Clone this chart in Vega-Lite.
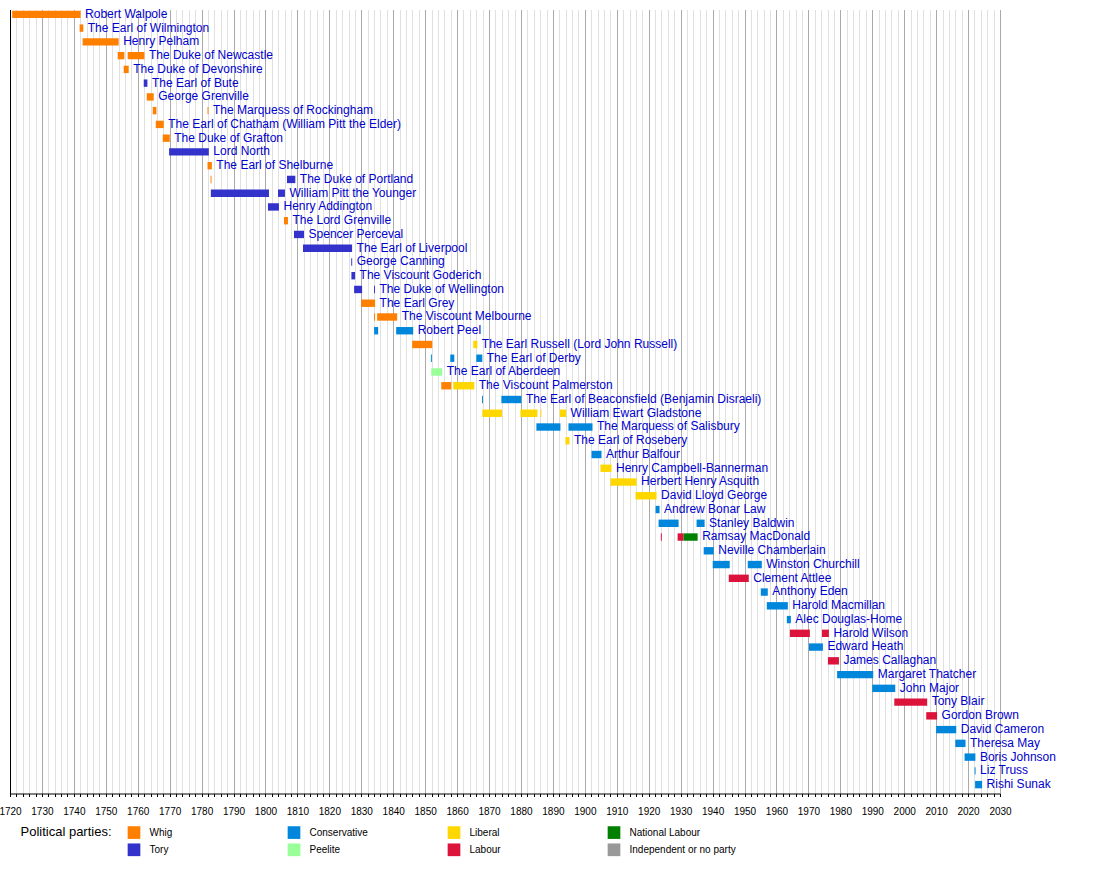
{
  "$schema": "https://vega.github.io/schema/vega-lite/v6.json",
  "width": 990,
  "height": 784,
  "autosize": {"type": "none"},
  "padding": {"left": 10, "top": 9.5, "right": 100, "bottom": 80.5},
  "background": "white",
  "config": {"view": {"stroke": null}, "font": "Liberation Sans"},
  "data": {"values": [
    {"pm": "Robert Walpole", "order": 1, "party": "Whig", "start": 1720.68, "end": 1742.11},
    {"pm": "The Earl of Wilmington", "order": 2, "party": "Whig", "start": 1741.8, "end": 1742.95},
    {"pm": "Henry Pelham", "order": 3, "party": "Whig", "start": 1742.74, "end": 1754.03},
    {"pm": "The Duke of Newcastle", "order": 4, "party": "Whig", "start": 1753.72, "end": 1755.81},
    {"pm": "The Duke of Newcastle", "order": 4, "party": "Whig", "start": 1756.86, "end": 1762.09},
    {"pm": "The Duke of Devonshire", "order": 5, "party": "Whig", "start": 1755.6, "end": 1757.17},
    {"pm": "The Earl of Bute", "order": 6, "party": "Tory", "start": 1761.88, "end": 1763.03},
    {"pm": "George Grenville", "order": 7, "party": "Whig", "start": 1762.82, "end": 1765.01},
    {"pm": "The Marquess of Rockingham", "order": 8, "party": "Whig", "start": 1764.7, "end": 1765.85},
    {"pm": "The Marquess of Rockingham", "order": 8, "party": "Whig", "start": 1781.85, "end": 1782.15},
    {"pm": "The Earl of Chatham (William Pitt the Elder)", "order": 9, "party": "Whig", "start": 1765.64, "end": 1768.15},
    {"pm": "The Duke of Grafton", "order": 10, "party": "Whig", "start": 1767.83, "end": 1770.03},
    {"pm": "Lord North", "order": 11, "party": "Tory", "start": 1769.82, "end": 1782.26},
    {"pm": "The Earl of Shelburne", "order": 12, "party": "Whig", "start": 1781.85, "end": 1783.21},
    {"pm": "The Duke of Portland", "order": 13, "party": "Whig", "start": 1782.8, "end": 1783.1},
    {"pm": "The Duke of Portland", "order": 13, "party": "Tory", "start": 1806.73, "end": 1809.34},
    {"pm": "William Pitt the Younger", "order": 14, "party": "Tory", "start": 1782.89, "end": 1801.09},
    {"pm": "William Pitt the Younger", "order": 14, "party": "Tory", "start": 1803.91, "end": 1806.1},
    {"pm": "Henry Addington", "order": 15, "party": "Tory", "start": 1800.77, "end": 1804.22},
    {"pm": "The Lord Grenville", "order": 16, "party": "Whig", "start": 1805.79, "end": 1807.04},
    {"pm": "Spencer Perceval", "order": 17, "party": "Tory", "start": 1808.93, "end": 1812.07},
    {"pm": "The Earl of Liverpool", "order": 18, "party": "Tory", "start": 1811.75, "end": 1827.12},
    {"pm": "George Canning", "order": 19, "party": "Tory", "start": 1826.85, "end": 1827.15},
    {"pm": "The Viscount Goderich", "order": 20, "party": "Tory", "start": 1826.9, "end": 1828.06},
    {"pm": "The Duke of Wellington", "order": 21, "party": "Tory", "start": 1827.75, "end": 1830.26},
    {"pm": "The Duke of Wellington", "order": 21, "party": "Tory", "start": 1834.0, "end": 1834.3},
    {"pm": "The Earl Grey", "order": 22, "party": "Whig", "start": 1829.94, "end": 1834.33},
    {"pm": "The Viscount Melbourne", "order": 23, "party": "Whig", "start": 1834.0, "end": 1834.3},
    {"pm": "The Viscount Melbourne", "order": 23, "party": "Whig", "start": 1834.97, "end": 1841.24},
    {"pm": "Robert Peel", "order": 24, "party": "Conservative", "start": 1834.02, "end": 1835.28},
    {"pm": "Robert Peel", "order": 24, "party": "Conservative", "start": 1840.92, "end": 1846.25},
    {"pm": "The Earl Russell (Lord John Russell)", "order": 25, "party": "Whig", "start": 1845.94, "end": 1852.22},
    {"pm": "The Earl Russell (Lord John Russell)", "order": 25, "party": "Liberal", "start": 1865.07, "end": 1866.33},
    {"pm": "The Earl of Derby", "order": 26, "party": "Conservative", "start": 1851.8, "end": 1852.1},
    {"pm": "The Earl of Derby", "order": 26, "party": "Conservative", "start": 1857.86, "end": 1859.12},
    {"pm": "The Earl of Derby", "order": 26, "party": "Conservative", "start": 1866.01, "end": 1867.89},
    {"pm": "The Earl of Aberdeen", "order": 27, "party": "Peelite", "start": 1851.9, "end": 1855.35},
    {"pm": "The Viscount Palmerston", "order": 28, "party": "Whig", "start": 1855.04, "end": 1858.17},
    {"pm": "The Viscount Palmerston", "order": 28, "party": "Liberal", "start": 1858.8, "end": 1865.38},
    {"pm": "The Earl of Beaconsfield (Benjamin Disraeli)", "order": 29, "party": "Conservative", "start": 1867.8, "end": 1868.1},
    {"pm": "The Earl of Beaconsfield (Benjamin Disraeli)", "order": 29, "party": "Conservative", "start": 1873.86, "end": 1880.13},
    {"pm": "William Ewart Gladstone", "order": 30, "party": "Liberal", "start": 1867.89, "end": 1874.07},
    {"pm": "William Ewart Gladstone", "order": 30, "party": "Liberal", "start": 1879.82, "end": 1885.15},
    {"pm": "William Ewart Gladstone", "order": 30, "party": "Liberal", "start": 1886.1, "end": 1886.4},
    {"pm": "William Ewart Gladstone", "order": 30, "party": "Liberal", "start": 1892.16, "end": 1894.14},
    {"pm": "The Marquess of Salisbury", "order": 31, "party": "Conservative", "start": 1884.83, "end": 1892.36},
    {"pm": "The Marquess of Salisbury", "order": 31, "party": "Conservative", "start": 1894.87, "end": 1902.4},
    {"pm": "The Earl of Rosebery", "order": 32, "party": "Liberal", "start": 1893.93, "end": 1895.18},
    {"pm": "Arthur Balfour", "order": 33, "party": "Conservative", "start": 1902.09, "end": 1905.22},
    {"pm": "Henry Campbell-Bannerman", "order": 34, "party": "Liberal", "start": 1904.9, "end": 1908.35},
    {"pm": "Herbert Henry Asquith", "order": 35, "party": "Liberal", "start": 1908.03, "end": 1916.19},
    {"pm": "David Lloyd George", "order": 36, "party": "Liberal", "start": 1915.87, "end": 1922.46},
    {"pm": "Andrew Bonar Law", "order": 37, "party": "Conservative", "start": 1922.15, "end": 1923.4},
    {"pm": "Stanley Baldwin", "order": 38, "party": "Conservative", "start": 1923.09, "end": 1929.36},
    {"pm": "Stanley Baldwin", "order": 38, "party": "Conservative", "start": 1934.99, "end": 1937.5},
    {"pm": "Ramsay MacDonald", "order": 39, "party": "Labour", "start": 1923.8, "end": 1924.1},
    {"pm": "Ramsay MacDonald", "order": 39, "party": "Labour", "start": 1929.05, "end": 1930.93},
    {"pm": "Ramsay MacDonald", "order": 39, "party": "National Labour", "start": 1930.93, "end": 1935.32},
    {"pm": "Neville Chamberlain", "order": 40, "party": "Conservative", "start": 1937.22, "end": 1940.36},
    {"pm": "Winston Churchill", "order": 41, "party": "Conservative", "start": 1940.04, "end": 1945.37},
    {"pm": "Winston Churchill", "order": 41, "party": "Conservative", "start": 1951.02, "end": 1955.41},
    {"pm": "Clement Attlee", "order": 42, "party": "Labour", "start": 1945.06, "end": 1951.33},
    {"pm": "Anthony Eden", "order": 43, "party": "Conservative", "start": 1955.1, "end": 1957.29},
    {"pm": "Harold Macmillan", "order": 44, "party": "Conservative", "start": 1956.98, "end": 1963.57},
    {"pm": "Alec Douglas-Home", "order": 45, "party": "Conservative", "start": 1963.25, "end": 1964.51},
    {"pm": "Harold Wilson", "order": 46, "party": "Labour", "start": 1964.2, "end": 1970.47},
    {"pm": "Harold Wilson", "order": 46, "party": "Labour", "start": 1974.24, "end": 1976.43},
    {"pm": "Edward Heath", "order": 47, "party": "Conservative", "start": 1970.16, "end": 1974.55},
    {"pm": "James Callaghan", "order": 48, "party": "Labour", "start": 1976.12, "end": 1979.57},
    {"pm": "Margaret Thatcher", "order": 49, "party": "Conservative", "start": 1979.0, "end": 1990.3},
    {"pm": "John Major", "order": 50, "party": "Conservative", "start": 1990.0, "end": 1997.2},
    {"pm": "Tony Blair", "order": 51, "party": "Labour", "start": 1996.9, "end": 2007.2},
    {"pm": "Gordon Brown", "order": 52, "party": "Labour", "start": 2006.9, "end": 2010.3},
    {"pm": "David Cameron", "order": 53, "party": "Conservative", "start": 2010.0, "end": 2016.3},
    {"pm": "Theresa May", "order": 54, "party": "Conservative", "start": 2016.0, "end": 2019.2},
    {"pm": "Boris Johnson", "order": 55, "party": "Conservative", "start": 2018.9, "end": 2022.3},
    {"pm": "Liz Truss", "order": 56, "party": "Conservative", "start": 2022.05, "end": 2022.35},
    {"pm": "Rishi Sunak", "order": 57, "party": "Conservative", "start": 2022.2, "end": 2024.4}
  ]},
  "layer": [
    {
      "mark": {"type": "bar", "height": 7.4, "yOffset": -2.0},
      "encoding": {
        "x": {
          "field": "start", "type": "quantitative",
          "scale": {"domain": [1720, 2030], "nice": false, "zero": false},
          "axis": {
            "title": null,
            "tickCount": 155,
            "format": "d",
            "grid": true,
            "gridColor": {"condition": {"test": "datum.value % 10 === 0", "value": "#aaaaaa"}, "value": "#e0e0e0"},
            "gridWidth": 1,
            "domainColor": "black",
            "domainWidth": 1,
            "tickColor": "black",
            "tickSize": 3,
            "labelExpr": "datum.value % 10 === 0 ? datum.label : ''",
            "labelOverlap": false,
            "labelFlush": false,
            "labelFontSize": 10,
            "labelColor": "black",
            "labelPadding": 10,
            "labelFont": "Liberation Sans"
          }
        },
        "x2": {"field": "end"},
        "y": {
          "field": "order", "type": "ordinal",
          "scale": {"paddingInner": 0, "paddingOuter": 0},
          "axis": {"title": null, "labels": false, "ticks": false, "grid": false, "domainColor": "black", "domainWidth": 1}
        },
        "color": {
          "field": "party", "type": "nominal",
          "scale": {
            "domain": ["Whig", "Conservative", "Liberal", "National Labour", "Tory", "Peelite", "Labour", "Independent or no party"],
            "range": ["#ff7f00", "#0087dc", "#ffd700", "#008000", "#3333cc", "#99ff99", "#dc143c", "#999999"]
          },
          "legend": {
            "title": "Political parties:",
            "orient": "none",
            "legendX": 10.5,
            "legendY": 816.5,
            "direction": "horizontal",
            "columns": 4,
            "titleOrient": "left",
            "titleAnchor": "start",
            "titleBaseline": "top",
            "titleFontSize": 13,
            "titleFontWeight": "normal",
            "titleColor": "black",
            "titlePadding": 15,
            "titleFont": "Liberation Sans",
            "symbolType": "square",
            "symbolSize": 161,
            "symbolStrokeWidth": 0,
            "symbolOpacity": 1,
            "labelFontSize": 10,
            "labelColor": "black",
            "labelOffset": 9,
            "labelFont": "Liberation Sans",
            "columnPadding": 31,
            "rowPadding": 4.3,
            "gridAlign": "all",
            "padding": 0
          }
        }
      }
    },
    {
      "transform": [{"aggregate": [{"op": "max", "field": "end", "as": "last"}], "groupby": ["order", "pm"]}],
      "mark": {"type": "text", "align": "left", "baseline": "middle", "dx": 4.5, "yOffset": -2.6, "fontSize": 12, "color": "#0000cc", "font": "Liberation Sans"},
      "encoding": {
        "x": {"field": "last", "type": "quantitative", "title": null},
        "y": {"field": "order", "type": "ordinal", "title": null},
        "text": {"field": "pm"}
      }
    }
  ]
}
